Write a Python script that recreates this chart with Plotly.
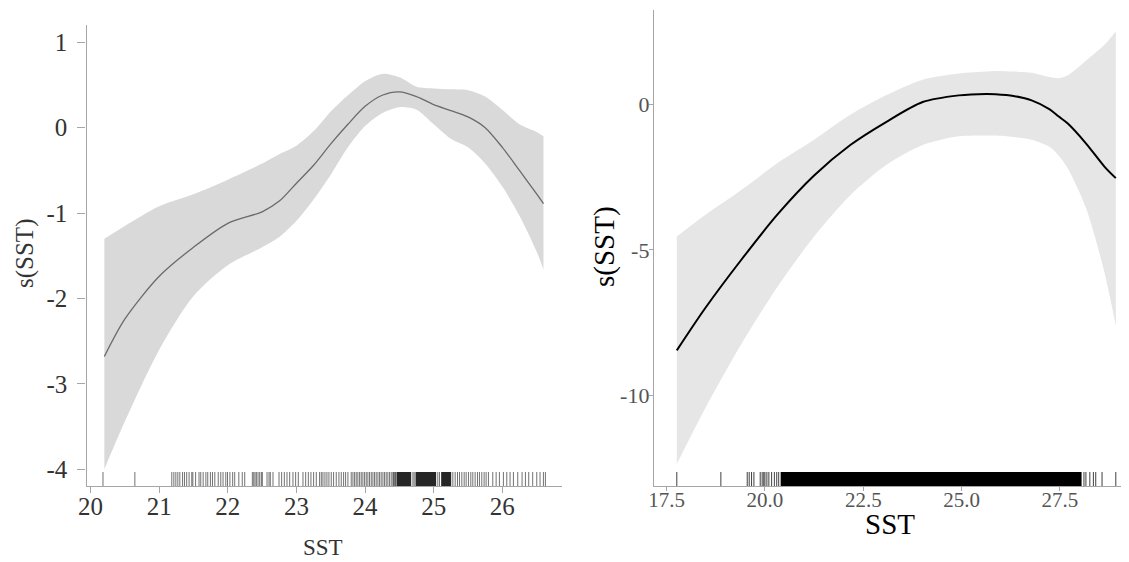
import plotly.graph_objects as go

OFF = 8                      # page body margin in the browser
W, H = 1129 - OFF, 562 - OFF

# ---------------- Left panel data ----------------
sst_left = [20.2, 20.5, 21.0, 21.5, 22.0, 22.5, 22.75, 23.0, 23.25, 23.5, 23.75, 24.0,
            24.25, 24.5, 24.75, 25.0, 25.25, 25.5, 25.75, 26.0, 26.25, 26.5, 26.6]
fit_left = [-2.68, -2.24, -1.74, -1.40, -1.12, -0.985, -0.86, -0.65, -0.44, -0.19, 0.04, 0.25,
            0.38, 0.42, 0.365, 0.27, 0.20, 0.126, 0.0, -0.23, -0.50, -0.776, -0.89]
upper_left = [-1.30, -1.15, -0.92, -0.78, -0.61, -0.42, -0.31, -0.21, -0.04, 0.19, 0.38, 0.545,
              0.63, 0.59, 0.48, 0.46, 0.45, 0.44, 0.365, 0.21, 0.04, -0.05, -0.10]
lower_left = [-4.0, -3.44, -2.6, -1.97, -1.61, -1.40, -1.28, -1.09, -0.84, -0.55, -0.23, 0.02,
              0.17, 0.24, 0.21, 0.04, -0.13, -0.23, -0.42, -0.69, -1.03, -1.45, -1.66]
rug_left = [20.18, 20.645,
            21.183, 21.213, 21.242, 21.271, 21.30, 21.34, 21.368, 21.40, 21.435, 21.474, 21.49,
            21.53, 21.58, 21.605, 21.64, 21.68, 21.707, 21.746, 21.776, 21.81, 21.86, 21.897,
            21.93, 21.97, 21.995, 22.03, 22.07, 22.10, 22.16, 22.21, 22.246,
            22.357, 22.377, 22.396, 22.416, 22.44, 22.464, 22.488, 22.503,
            22.571, 22.60, 22.619, 22.658, 22.746, 22.784, 22.823, 22.862, 22.901, 22.949,
            22.988, 23.027, 23.095, 23.134, 23.173, 23.211, 23.25, 23.289,
            23.337, 23.362, 23.386, 23.415, 23.444, 23.473, 23.507, 23.541, 23.58, 23.619,
            23.653, 23.687, 23.716, 23.75,
            23.798, 23.823, 23.847, 23.871, 23.895, 23.92, 23.944, 23.968, 23.993, 24.017,
            24.041, 24.065, 24.09, 24.114, 24.138, 24.162, 24.187, 24.211, 24.235, 24.26,
            24.284, 24.308, 24.332, 24.357, 24.381, 24.405, 24.415, 24.43, 24.444, 24.454,
            24.697, 24.716, 25.06, 25.085,
            25.279, 25.313, 25.347, 25.376, 25.41, 25.444, 25.473, 25.507, 25.541, 25.57,
            25.604, 25.638, 25.667, 25.701, 25.735, 25.764, 25.798,
            25.861, 25.91, 25.958, 26.016, 26.065, 26.113, 26.162, 26.225, 26.288, 26.337,
            26.385, 26.443, 26.502, 26.55, 26.599, 26.628]
rug_left_dense = [(24.464, 24.672), (24.735, 25.036), (25.109, 25.255)]

# ---------------- Right panel data ----------------
sst_right = [17.76, 18.48, 19.40, 20.32, 21.25, 22.17, 23.09, 24.01, 24.93, 25.63, 25.86,
             26.32, 26.78, 27.24, 27.47, 27.70, 28.16, 28.63, 28.92]
fit_right = [-8.46, -7.01, -5.34, -3.78, -2.44, -1.39, -0.59, 0.09, 0.32, 0.37, 0.36,
             0.30, 0.15, -0.16, -0.41, -0.65, -1.33, -2.13, -2.53]
upper_right = [-4.54, -3.80, -2.94, -2.01, -1.21, -0.35, 0.33, 0.86, 1.07, 1.14, 1.16,
               1.14, 1.10, 0.95, 0.91, 1.01, 1.51, 2.06, 2.52]
lower_right = [-12.37, -10.46, -8.24, -6.27, -4.54, -3.12, -2.07, -1.39, -1.09, -1.06, -1.06,
               -1.11, -1.21, -1.46, -1.76, -2.20, -3.55, -5.77, -7.62]
rug_right = [17.76, 18.88, 19.55, 19.60, 19.66, 19.72, 19.88, 19.93, 19.97, 20.0, 20.05,
             20.10, 20.17, 20.24, 20.30, 20.35,
             28.11, 28.16, 28.26, 28.35, 28.41, 28.57, 28.92]
rug_right_dense = [(20.40, 28.05)]

# tick labels
xt_left = [20, 21, 22, 23, 24, 25, 26]
yt_left = [-4, -3, -2, -1, 0, 1]
xt_right = [17.5, 20.0, 22.5, 25.0, 27.5]
yt_right = [-10, -5, 0]

# ---------------- ranges / style ----------------
XR_L = [19.94, 26.87]
YR_L = [-4.197, 1.203]
XR_R = [17.18, 29.23]
YR_R = [-13.13, 3.26]
RUG_PX = 14
SERIF = "Liberation Serif, Times New Roman, serif"


def px(x):   # screen x -> paper fraction
    return (x - OFF) / W


def py(y):   # screen y -> paper fraction
    return 1 - (y - OFF) / H


def rug_lines(vals, ymin, h):
    xs, ys = [], []
    for v in vals:
        xs += [v, v, None]
        ys += [ymin, ymin + h, None]
    return xs, ys


def rug_blocks(blocks, ymin, h):
    xs, ys = [], []
    for a, b in blocks:
        xs += [a, b, b, a, a, None]
        ys += [ymin, ymin, ymin + h, ymin + h, ymin, None]
    return xs, ys


SPL = dict(shape="spline", smoothing=0.8)
fig = go.Figure()

# left band
fig.add_trace(go.Scatter(x=sst_left, y=upper_left, mode="lines", line=dict(width=0, **SPL),
                         xaxis="x", yaxis="y", showlegend=False, hoverinfo="skip"))
fig.add_trace(go.Scatter(x=sst_left, y=lower_left, mode="lines", line=dict(width=0, **SPL),
                         fill="tonexty", fillcolor="#d9d9d9",
                         xaxis="x", yaxis="y", showlegend=False, hoverinfo="skip"))
fig.add_trace(go.Scatter(x=sst_left, y=fit_left, mode="lines",
                         line=dict(color="#6a6a6a", width=1.3, **SPL),
                         xaxis="x", yaxis="y", showlegend=False))
hl = (YR_L[1] - YR_L[0]) * RUG_PX / (486 - 25)
rx, ry = rug_lines(rug_left, YR_L[0], hl)
fig.add_trace(go.Scatter(x=rx, y=ry, mode="lines", line=dict(color="rgba(20,20,20,0.6)", width=1),
                         xaxis="x", yaxis="y", showlegend=False, hoverinfo="skip"))
bx, by = rug_blocks(rug_left_dense, YR_L[0], hl)
fig.add_trace(go.Scatter(x=bx, y=by, mode="lines", line=dict(width=0), fill="toself",
                         fillcolor="#262626", xaxis="x", yaxis="y", showlegend=False, hoverinfo="skip"))

# right band
fig.add_trace(go.Scatter(x=sst_right, y=upper_right, mode="lines", line=dict(width=0, **SPL),
                         xaxis="x2", yaxis="y2", showlegend=False, hoverinfo="skip"))
fig.add_trace(go.Scatter(x=sst_right, y=lower_right, mode="lines", line=dict(width=0, **SPL),
                         fill="tonexty", fillcolor="#e6e6e6",
                         xaxis="x2", yaxis="y2", showlegend=False, hoverinfo="skip"))
fig.add_trace(go.Scatter(x=sst_right, y=fit_right, mode="lines",
                         line=dict(color="black", width=2, **SPL),
                         xaxis="x2", yaxis="y2", showlegend=False))
hr = (YR_R[1] - YR_R[0]) * RUG_PX / (486 - 10)
rx, ry = rug_lines(rug_right, YR_R[0], hr)
fig.add_trace(go.Scatter(x=rx, y=ry, mode="lines", line=dict(color="rgba(0,0,0,0.75)", width=1),
                         xaxis="x2", yaxis="y2", showlegend=False, hoverinfo="skip"))
bx, by = rug_blocks(rug_right_dense, YR_R[0], hr)
fig.add_trace(go.Scatter(x=bx, y=by, mode="lines", line=dict(width=0), fill="toself",
                         fillcolor="black", xaxis="x2", yaxis="y2", showlegend=False, hoverinfo="skip"))

axis_common = dict(showgrid=False, zeroline=False, showline=True, linecolor="#a6a6a6", linewidth=1.3,
                   ticks="outside", tickcolor="#a6a6a6", tickwidth=1.2, fixedrange=True,
                   automargin=False)

fig.update_layout(
    width=W, height=H, autosize=False,
    margin=dict(l=0, r=0, t=0, b=0, pad=0),
    paper_bgcolor="white", plot_bgcolor="white",
    font=dict(family=SERIF),
    xaxis=dict(domain=[px(86.5), px(562)], range=XR_L, anchor="y",
               tickvals=xt_left, ticktext=[str(v) for v in xt_left], ticklen=6,
               ticklabelstandoff=-8,
               tickfont=dict(family=SERIF, size=25, color="#333333"), **axis_common),
    yaxis=dict(domain=[py(486), py(25)], range=YR_L, anchor="x",
               tickvals=yt_left, ticktext=[str(v) for v in yt_left], ticklen=8,
               ticklabelstandoff=5,
               tickfont=dict(family=SERIF, size=25, color="#333333"), **axis_common),
    xaxis2=dict(domain=[px(654), px(1128)], range=XR_R, anchor="y2",
                tickvals=xt_right, ticktext=["%.1f" % v for v in xt_right], ticklen=4,
                ticklabelstandoff=-9,
                tickfont=dict(family=SERIF, size=21, color="#555555"), **axis_common),
    yaxis2=dict(domain=[py(486), py(10)], range=YR_R, anchor="x2",
                tickvals=yt_right, ticktext=[str(v) for v in yt_right], ticklen=4,
                ticklabelstandoff=-5,
                tickfont=dict(family=SERIF, size=22, color="#555555"), **axis_common),
    annotations=[
        dict(text="SST", x=px(323), y=py(547), xref="paper", yref="paper", showarrow=False,
             xanchor="center", yanchor="middle", font=dict(family=SERIF, size=23, color="#333333")),
        dict(text="s(SST)", x=px(25), y=py(254), xref="paper", yref="paper", showarrow=False,
             textangle=-90, xanchor="center", yanchor="middle",
             font=dict(family=SERIF, size=25, color="#333333")),
        dict(text="SST", x=px(890), y=py(524), xref="paper", yref="paper", showarrow=False,
             xanchor="center", yanchor="middle", font=dict(family=SERIF, size=29, color="black")),
        dict(text="s(SST)", x=px(604), y=py(247), xref="paper", yref="paper", showarrow=False,
             textangle=-90, xanchor="center", yanchor="middle",
             font=dict(family=SERIF, size=29, color="black")),
    ],
)

fig.write_html("out.html")
